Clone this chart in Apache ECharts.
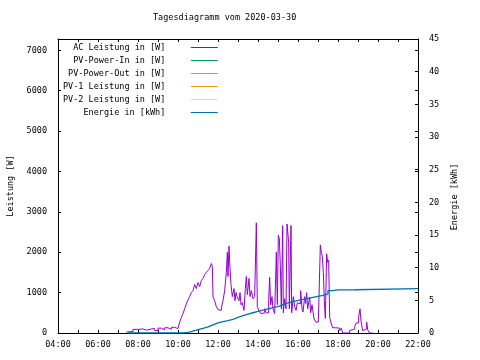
<!DOCTYPE html>
<html>
<head>
<meta charset="utf-8">
<script src="https://cdn.jsdelivr.net/npm/echarts@6/dist/echarts.min.js"></script>
<style>html,body{margin:0;padding:0;background:#fff}#c{width:480px;height:360px}</style>
</head>
<body>
<div id="c"></div>
<script>
const chartTitle = 'Tagesdiagramm vom 2020-03-30';
const seriesNames = ['AC Leistung in [W]', 'PV-Power-In in [W]', 'PV-Power-Out in [W]', 'PV-1 Leistung in [W]', 'PV-2 Leistung in [W]', 'Energie in [kWh]'];
const seriesColors = ['#9400d3', '#009e73', '#56b4e9', '#e69f00', '#f0e442', '#0072b2'];

const acTimes = ['07:25','07:30','07:45','08:00','08:05','08:15','08:25','08:40','08:50','09:00','09:10','09:20','09:30','09:40','09:50',
 '10:00','10:05','10:10','10:15','10:20','10:25','10:30','10:35','10:40','10:45','10:50','10:55','11:00','11:05','11:10','11:15','11:20','11:25','11:30','11:35','11:40','11:43','11:45','11:50','11:55',
 '12:00','12:05','12:10','12:15','12:20','12:25','12:28','12:30','12:33','12:36','12:39','12:43','12:48','12:51','12:54','12:57',
 '13:03','13:06','13:09','13:13','13:18','13:22','13:25','13:28','13:33','13:36','13:40','13:45','13:50','13:55','13:58',
 '14:03','14:08','14:14','14:20','14:25','14:32','14:35','14:38','14:42','14:45','14:50','14:55','14:58',
 '15:01','15:04','15:07','15:10','15:14','15:16','15:20','15:24','15:27','15:30','15:32','15:34','15:39','15:41','15:46','15:50','15:54','15:58',
 '16:04','16:08','16:12','16:15','16:20','16:23','16:26','16:29','16:35','16:38','16:42','16:48','16:54',
 '17:01','17:07','17:10','17:13','17:16','17:19','17:22','17:26','17:29','17:32','17:35','17:39','17:44','17:52','17:58',
 '18:05','18:10','18:14','18:25','18:35','18:40','18:50','18:55',
 '19:02','19:06','19:09','19:14','19:20','19:26','19:29','19:35','19:44'];
const acWatts = [20,40,90,60,100,70,100,110,60,120,80,130,90,140,110,
 150,270,380,480,600,720,820,900,1000,1050,1200,1100,1250,1150,1300,1350,1450,1500,1550,1600,1720,1650,900,800,650,
 580,560,620,800,1050,1500,2000,1400,2150,1600,1200,900,1100,800,1000,900,
 800,1000,700,750,560,1100,1400,950,1350,900,1050,850,900,2730,650,
 550,480,500,600,500,800,1380,700,900,600,480,2000,700,
 2420,2330,1670,600,2660,500,850,600,2700,2700,2250,600,2660,500,900,650,560,750,
 720,1050,600,520,900,730,1000,600,890,500,700,350,270,
 230,2180,2000,1900,1500,800,360,1960,1750,1800,390,250,130,100,120,
 60,120,0,0,60,100,160,250,
 400,600,300,60,100,270,80,0,0];

const pvInValues = [];
const pvOutValues = [];
const pv1Values = [];
const pv2Values = [];

const energyTimes = ['07:30','10:00','10:15','10:30','10:45','11:00','11:15','11:30','11:45','12:00','12:15','12:30','12:45','13:00','13:15','13:30','13:45',
 '14:00','14:15','14:30','14:45','15:00','15:15','15:30','15:45','16:00','16:15','16:30','16:45','17:00','17:15','17:30','17:45','18:00','18:51','18:54','22:00'];
const energyKWh = [0,0,0.1,0.3,0.5,0.7,0.95,1.25,1.55,1.75,1.9,2.1,2.4,2.65,2.9,3.1,3.3,
 3.5,3.7,3.9,4.05,4.35,4.6,4.8,5.0,5.15,5.3,5.45,5.6,5.75,6.0,6.5,6.6,6.62,6.62,6.78,6.78];

const xTickHours = [4, 22];
const leftRange = [0, 7280];
const rightRange = [0, 45];

function toHours(t){ const p = t.split(':').map(Number); return p[0] + p[1]/60; }
function pad(s, n){ while (s.length < n) s = ' ' + s; return s; }

const FONT = 'DejaVu Sans Mono';
const FS = 8.5;
const txt = {fontFamily: FONT, fontSize: FS, color: '#000'};

const chart = echarts.init(document.getElementById('c'), null, {renderer: 'canvas'});

const acData = acTimes.map((t, i) => [toHours(t), acWatts[i]]);
const enData = energyTimes.map((t, i) => [toHours(t), energyKWh[i]]);
const seriesData = [acData, pvInValues, pvOutValues, pv1Values, pv2Values, enData];

const tickCommon = {show: true, inside: true, length: 3, lineStyle: {color: '#000', width: 1}};

chart.setOption({
  animation: false,
  backgroundColor: '#fff',
  color: seriesColors,
  title: {
    text: chartTitle, left: 153, top: 13, padding: 0,
    textStyle: {fontFamily: FONT, fontSize: FS, fontWeight: 'normal', color: '#000'}
  },
  legend: {
    orient: 'vertical', left: 63, top: 41, align: 'right', padding: 0,
    itemGap: 0, itemWidth: 27, itemHeight: 1, icon: 'rect',
    selectedMode: false,
    formatter: name => pad(name, 20) + '    ',
    textStyle: {fontFamily: FONT, fontSize: FS, color: '#000', lineHeight: 13},
    data: seriesNames.map((n, i) => ({name: n, itemStyle: {color: seriesColors[i]}}))
  },
  grid: {left: 58, right: 62, top: 39, bottom: 27, containLabel: false, outerBoundsMode: 'none'},
  xAxis: [{
    type: 'value', min: xTickHours[0], max: xTickHours[1], interval: 1,
    axisLine: {show: true, onZero: false, lineStyle: {color: '#000', width: 1}},
    axisTick: tickCommon,
    splitLine: {show: false},
    axisLabel: Object.assign({margin: 7, formatter: v => (v % 2 === 0 ? ((v < 10 ? '0' : '') + v + ':00') : '')}, txt)
  }, {
    type: 'value', position: 'top', min: xTickHours[0], max: xTickHours[1], interval: 1,
    axisLine: {show: true, onZero: false, lineStyle: {color: '#000', width: 1}},
    axisTick: tickCommon, splitLine: {show: false}, axisLabel: {show: false}
  }],
  yAxis: [{
    type: 'value', position: 'left', min: leftRange[0], max: leftRange[1], interval: 1000,
    name: 'Leistung [W]', nameLocation: 'middle', nameGap: 43, nameRotate: 90,
    nameTextStyle: txt,
    axisLine: {show: true, onZero: false, lineStyle: {color: '#000', width: 1}},
    axisTick: tickCommon, splitLine: {show: false},
    axisLabel: Object.assign({margin: 11, showMaxLabel: false, formatter: v => String(v)}, txt)
  }, {
    type: 'value', position: 'right', min: rightRange[0], max: rightRange[1], interval: 5,
    name: 'Energie [kWh]', nameLocation: 'middle', nameGap: 28, nameRotate: 90,
    nameTextStyle: Object.assign({padding: [0, 22, 0, 0]}, txt),
    axisLine: {show: true, onZero: false, lineStyle: {color: '#000', width: 1}},
    axisTick: tickCommon, splitLine: {show: false},
    axisLabel: Object.assign({margin: 11, formatter: v => String(v)}, txt)
  }, {
    type: 'value', position: 'right', min: leftRange[0], max: leftRange[1], interval: 1000,
    axisLine: {show: false}, axisTick: tickCommon, splitLine: {show: false}, axisLabel: {show: false}
  }],
  series: seriesNames.map((n, i) => ({
    name: n, type: 'line', data: seriesData[i],
    step: (i === 0 || i === 5) ? 'end' : false,
    showSymbol: false, symbol: 'none',
    yAxisIndex: i === 5 ? 1 : 0,
    z: i === 5 ? 4 : 3,
    itemStyle: {color: seriesColors[i]},
    lineStyle: {width: i === 5 ? 1.3 : 1, color: seriesColors[i]}
  }))
});
</script>
</body>
</html>
